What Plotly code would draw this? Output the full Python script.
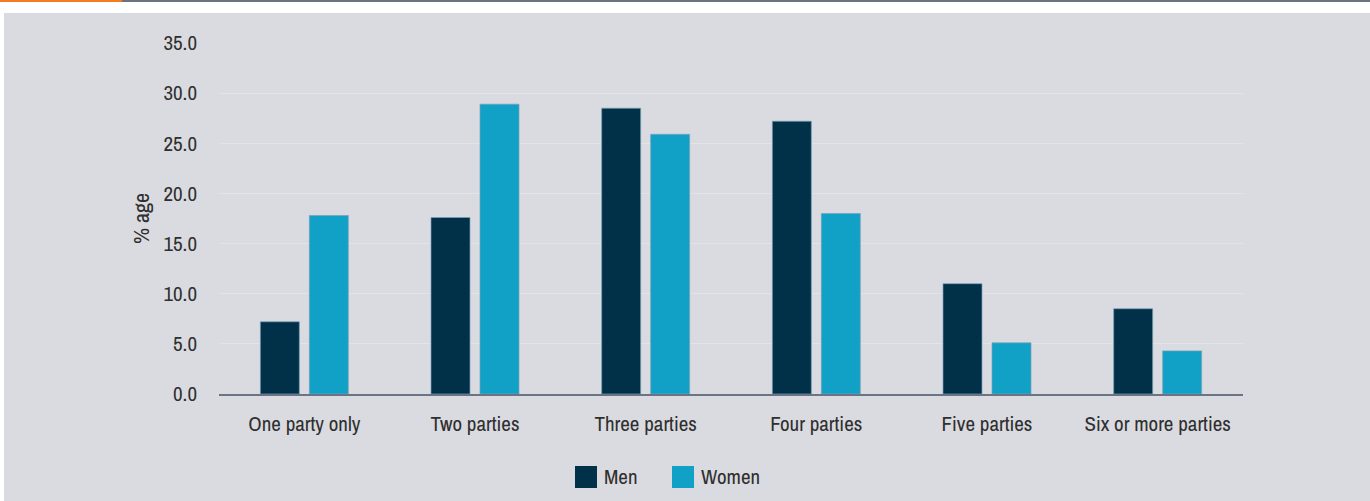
import plotly.graph_objects as go

categories = ["One party only", "Two parties", "Three parties", "Four parties", "Five parties", "Six or more parties"]
men = [7.2, 17.6, 28.5, 27.2, 11.0, 8.5]
women = [17.8, 28.9, 25.9, 18.0, 5.1, 4.3]
series_names = ["Men", "Women"]
series_colors = ["#013049", "#12a1c6"]
y_ticks = [0, 5, 10, 15, 20, 25, 30, 35]

W, H = 1370, 501
FONT = "Archivo Narrow, Asap Condensed, DejaVu Sans Condensed, sans-serif"
BG = "#dadbe0"
TXT = "#2f2f2f"

fig = go.Figure()
for name, vals, col in zip(series_names, [men, women], series_colors):
    fig.add_trace(go.Bar(
        x=categories, y=vals, name=name, marker_color=col,
        marker_line=dict(color="rgba(120,160,185,0.7)", width=1),
        showlegend=False,
    ))

def px(x):
    return x / W

def py(y):
    return 1 - y / H

shapes = [
    dict(type="rect", xref="paper", yref="paper", x0=px(4), x1=1.0, y0=0, y1=py(13),
         fillcolor=BG, line_width=0, layer="below"),
    dict(type="rect", xref="paper", yref="paper", x0=0, x1=px(122), y0=py(2), y1=1.0,
         fillcolor="#f47c20", line_width=0, layer="below"),
    dict(type="rect", xref="paper", yref="paper", x0=px(122), x1=1.0, y0=py(2), y1=1.0,
         fillcolor="#6b7280", line_width=0, layer="below"),
]

annotations = [
    dict(text="% age", xref="paper", yref="paper", x=px(141), y=py(219), textangle=-90,
         showarrow=False, font=dict(family=FONT, size=22, color=TXT),
         xanchor="center", yanchor="middle"),
]

# manual legend
leg_x = [575, 672]
for name, col, lx in zip(series_names, series_colors, leg_x):
    shapes.append(dict(type="rect", xref="paper", yref="paper", x0=px(lx), x1=px(lx + 22),
                       y0=py(488), y1=py(466), fillcolor=col, line_width=0))
    annotations.append(dict(text=name, xref="paper", yref="paper", x=px(lx + 27), y=py(476),
                            xanchor="left", yanchor="middle", showarrow=False,
                            font=dict(family=FONT, size=21, color=TXT)))

fig.update_layout(
    width=W, height=H,
    margin=dict(l=0, r=0, t=0, b=0, pad=0, autoexpand=False),
    paper_bgcolor="white",
    plot_bgcolor=BG,
    barmode="group",
    bargap=0.426,
    bargroupgap=0.204,
    font=dict(family=FONT, size=20, color=TXT),
    shapes=shapes,
    annotations=annotations,
    xaxis=dict(domain=[px(219), px(1243)], showgrid=False, showline=True, linecolor="#6b7385",
               linewidth=2, ticks="", ticklabelstandoff=10, automargin=False,
               tickfont=dict(family=FONT, size=21, color=TXT)),
    yaxis=dict(domain=[py(394), py(43)], range=[0, 35], tickvals=y_ticks,
               tickformat=".1f", showgrid=True, gridcolor="#e3e4e7", gridwidth=1,
               zeroline=False, showline=False, ticks="", ticklabelstandoff=21, automargin=False,
               tickfont=dict(family=FONT, size=21, color=TXT)),
)

fig.write_html("out.html")
